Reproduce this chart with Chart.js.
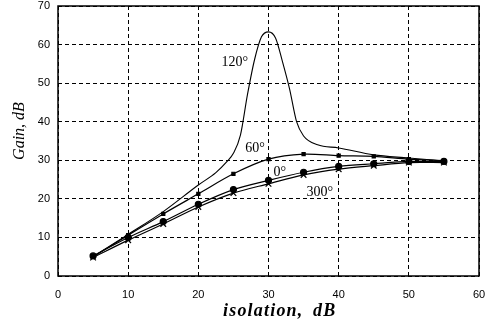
<!DOCTYPE html>
<html>
<head>
<meta charset="utf-8">
<script src="https://cdn.jsdelivr.net/npm/chart.js@4/dist/chart.umd.min.js"></script>
<style>
  body { margin: 0; background: #fff; }
</style>
</head>
<body>
<canvas id="gain" width="493" height="323"></canvas>
<script>
// isolation, dB
const isolation = [5, 10, 15, 20, 25, 30, 35, 40, 45, 50, 55]
const gain60 = [5, 10.6, 16.1, 21.3, 26.5, 30.3, 31.6, 31.2, 31.0, 30.3, 29.9]
const gain0 = [5.2, 10.0, 14.1, 18.6, 22.4, 24.8, 26.9, 28.4, 29.1, 29.7, 29.7]
const gain300 = [4.8, 9.3, 13.5, 17.9, 21.5, 23.9, 26.2, 27.7, 28.6, 29.4, 29.4]
// 120 deg curve is drawn without markers, read at more points
const isolation120 = [5, 10, 15, 20, 22.5, 24, 25, 26, 27, 28, 29, 30, 31, 32, 33, 34, 35, 37, 40, 45, 50, 55]
const gain120 = [5, 10.8, 16.7, 23.6, 26.8, 29.5, 31.8, 36.5, 47, 56, 62, 63.3, 61.7, 55.5, 48.5, 40, 36.3, 34, 33.2, 31.4, 30.6, 29.8]
const xTicks = [0, 10, 20, 30, 40, 50, 60]
const yTicks = [0, 10, 20, 30, 40, 50, 60, 70]

const curveLabels = [
  { text: '120°', x: 25.2, y: 55.5 },
  { text: '60°', x: 28.1, y: 33 },
  { text: '0°', x: 31.6, y: 26.8 },
  { text: '300°', x: 37.3, y: 21.6 }
]

function pts(xs, ys) {
  return xs.map((x, i) => ({ x: x, y: ys[i] }))
}

const frame = {
  id: 'frame',
  afterDraw(chart) {
    const ctx = chart.ctx
    const a = chart.chartArea
    ctx.save()
    ctx.strokeStyle = '#000'
    ctx.lineWidth = 1.5
    ctx.strokeRect(a.left, a.top, a.right - a.left, a.bottom - a.top)
    ctx.fillStyle = '#000'
    ctx.font = '14px "Liberation Serif"'
    ctx.textAlign = 'center'
    ctx.textBaseline = 'middle'
    curveLabels.forEach(l => {
      ctx.fillText(l.text, chart.scales.x.getPixelForValue(l.x), chart.scales.y.getPixelForValue(l.y))
    })
    // axis titles
    ctx.textBaseline = 'alphabetic'
    ctx.textAlign = 'left'
    ctx.font = 'italic bold 18px "Liberation Serif"'
    ctx.letterSpacing = '1.2px'
    ctx.fillText('isolation,', 223, 316)
    ctx.fillText('dB', 313, 316)
    ctx.letterSpacing = '0px'
    ctx.translate(20, 131)
    ctx.rotate(-Math.PI / 2)
    ctx.textAlign = 'center'
    ctx.textBaseline = 'middle'
    ctx.font = 'italic 16px "Liberation Serif"'
    ctx.fillText('Gain, dB', 0, 0)
    ctx.restore()
  }
}

const line = {
  borderColor: '#000',
  backgroundColor: '#000',
  borderWidth: 1.2,
  fill: false,
  tension: 0.3
}

new Chart('gain', {
  type: 'line',
  data: {
    datasets: [
      Object.assign({}, line, { label: '120', data: pts(isolation120, gain120), pointRadius: 0, cubicInterpolationMode: 'monotone', borderWidth: 1.1 }),
      Object.assign({}, line, { label: '60', data: pts(isolation, gain60), pointStyle: 'rect', pointRadius: 2.2 }),
      Object.assign({}, line, { label: '0', data: pts(isolation, gain0), pointStyle: 'circle', pointRadius: 3 }),
      Object.assign({}, line, { label: '300', data: pts(isolation, gain300), pointStyle: 'crossRot', pointRadius: 4, pointBorderWidth: 1.2 })
    ]
  },
  options: {
    responsive: false,
    animation: false,
    events: [],
    layout: { padding: { top: 6, right: 14, left: 0, bottom: 0 } },
    plugins: { legend: { display: false }, tooltip: { enabled: false } },
    scales: {
      x: {
        type: 'linear',
        min: 0,
        max: 60,
        afterBuildTicks: s => { s.ticks = xTicks.map(v => ({ value: v })) },
        afterFit: s => { s.height = 47; s.paddingLeft = 0; s.paddingRight = 0 },
        grid: { color: '#000', lineWidth: 1, drawTicks: false },
        border: { display: false, dash: [4, 3] },
        ticks: { color: '#000', padding: 12, font: { family: '"Liberation Sans"', size: 11 }, maxRotation: 0 }
      },
      y: {
        min: 0,
        max: 70,
        afterBuildTicks: s => { s.ticks = yTicks.map(v => ({ value: v })) },
        afterFit: s => { s.width = 58; s.paddingTop = 0; s.paddingBottom = 0 },
        grid: { color: '#000', lineWidth: 1, drawTicks: false },
        border: { display: false, dash: [4, 3] },
        ticks: { color: '#000', padding: 8, font: { family: '"Liberation Sans"', size: 11 } }
      }
    }
  },
  plugins: [frame]
})
</script>
</body>
</html>
